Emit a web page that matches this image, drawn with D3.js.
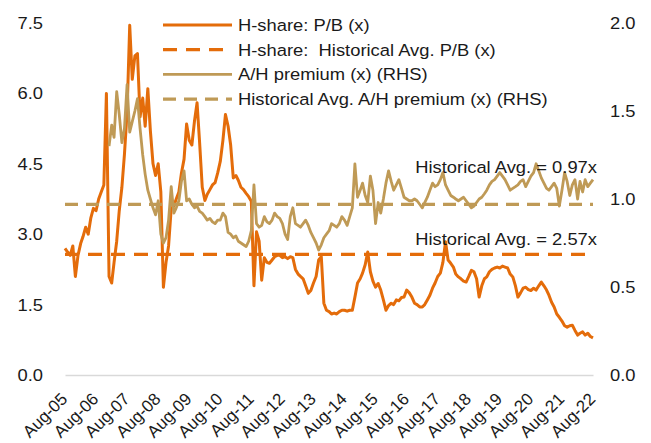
<!DOCTYPE html>
<html><head><meta charset="utf-8">
<script src="https://cdn.jsdelivr.net/npm/d3@7/dist/d3.min.js"></script>
<style>
html,body{margin:0;padding:0;background:#fff;}
svg{display:block;font-family:"Liberation Sans",Arial,sans-serif;}
</style></head>
<body><svg id="chart" width="651" height="443"></svg>
<script>
// ---- data (monthly) ----
const pbStart = [2005, 7];   // Aug-05
const pbValues = [
 2.70,2.62,2.55,2.75,2.10,2.55,2.80,2.95,3.15,3.00,3.35,3.55,
 3.50,3.75,3.90,4.05,6.00,2.10,1.96,2.40,2.85,3.50,4.00,4.70,
 5.60,7.45,6.30,6.80,6.85,5.50,5.90,5.30,6.10,5.20,4.50,4.25,
 4.50,3.90,1.87,2.40,2.75,3.55,3.60,3.75,3.90,4.30,4.60,5.35,
 5.00,4.90,5.40,5.80,4.95,4.00,3.72,3.85,3.95,4.05,4.10,4.30,
 4.55,5.00,5.55,5.30,4.90,4.20,4.25,4.15,4.00,3.95,3.87,3.80,
 3.70,1.90,3.05,2.85,2.02,2.50,2.40,2.38,2.45,2.52,2.55,2.55,
 2.50,2.52,2.48,2.52,2.50,2.25,2.15,2.10,2.05,1.90,1.74,1.80,
 1.96,2.10,2.45,2.52,1.53,1.38,1.35,1.30,1.32,1.30,1.35,1.38,
 1.38,1.36,1.38,1.38,1.66,1.96,2.05,2.17,2.35,2.62,2.20,2.00,
 1.87,1.95,1.81,1.60,1.38,1.48,1.53,1.50,1.60,1.58,1.65,1.66,
 1.81,1.75,1.66,1.53,1.50,1.45,1.45,1.50,1.60,1.70,1.85,1.96,
 2.10,2.17,2.40,2.84,2.45,2.38,2.30,2.15,2.09,2.05,2.00,1.98,
 2.10,2.23,2.20,2.05,1.66,1.90,2.05,2.09,2.20,2.25,2.28,2.30,
 2.28,2.32,2.30,2.28,2.15,2.09,1.90,1.66,1.75,1.85,1.87,1.82,
 1.80,1.85,1.81,1.90,1.98,1.90,1.81,1.70,1.55,1.45,1.30,1.23,
 1.15,1.05,1.02,1.05,1.06,0.95,0.85,0.89,0.92,0.85,0.89,0.82,0.79
];
const ahStart = [2007, 0];   // Jan-07
const ahValues = [
 1.30,1.42,1.35,1.61,1.48,1.32,1.40,1.65,1.38,1.44,1.50,1.57,1.40,1.25,1.14,1.05,1.00,0.95,0.91,
 0.99,0.80,0.75,0.78,0.88,1.07,0.92,0.95,0.99,1.10,1.16,0.99,
 1.00,0.97,0.95,0.96,0.93,0.92,0.90,0.88,0.89,0.87,0.86,0.88,
 0.88,0.92,0.90,0.81,0.80,0.78,0.79,0.76,0.75,0.74,0.73,0.76,
 0.82,1.08,0.86,0.84,0.85,0.90,0.87,0.86,0.88,0.92,0.90,0.89,
 0.86,0.80,0.77,0.90,0.95,0.86,0.85,0.84,0.86,0.88,0.85,0.81,
 0.78,0.75,0.71,0.74,0.78,0.80,0.82,0.86,0.85,0.84,0.86,0.90,
 0.88,0.85,0.90,0.95,1.20,1.01,1.05,1.09,1.02,0.98,1.13,1.05,
 0.86,0.98,0.92,1.00,1.09,1.16,1.10,1.05,1.08,1.11,1.06,1.01,
 1.00,0.99,0.99,1.00,0.99,0.97,0.95,0.98,1.01,1.05,1.09,1.07,
 1.08,1.11,1.15,1.08,1.05,1.02,1.01,1.00,0.99,1.00,1.01,0.99,
 0.97,0.95,0.96,0.98,1.00,1.01,1.03,1.05,1.08,1.10,1.11,1.13,
 1.15,1.13,1.11,1.08,1.05,1.06,1.07,1.08,1.10,1.11,1.07,1.10,
 1.13,1.15,1.20,1.16,1.12,1.09,1.06,1.05,1.07,1.09,1.06,0.96,
 1.05,1.15,1.10,1.02,1.08,1.11,1.00,1.10,1.04,1.11,1.07,1.09,1.11
];
const pbAvg = 2.57;
const ahAvg = 0.97;
const leftTicks = [0, 1.5, 3.0, 4.5, 6.0, 7.5];
const rightTicks = [0, 0.5, 1.0, 1.5, 2.0];
const xTickYears = d3.range(2005, 2023);
const legendLabels = ["H-share: P/B (x)", "H-share:  Historical Avg. P/B (x)", "A/H premium (x) (RHS)", "Historical Avg. A/H premium (x) (RHS)"];
const annotations = ["Historical Avg. = 0.97x", "Historical Avg. = 2.57x"];

// ---- styles ----
const ORANGE = "#E46C0A", TAN = "#BF9A56", TXT = "#1a1a1a";
const FS = 17, SX = 1.08;

const svg = d3.select("#chart");
const X0 = 65, X1 = 593, Y0 = 375, Y1 = 23;

const pbData = pbValues.map((v, i) => ({d: new Date(pbStart[0], pbStart[1] + i, 1), v}));
const ahData = ahValues.map((v, i) => ({d: new Date(ahStart[0], ahStart[1] + i, 1), v}));

const x = d3.scaleTime().domain([new Date(2005, 7, 1), new Date(2022, 7, 1)]).range([X0, X1]);
const yL = d3.scaleLinear().domain([0, 7.5]).range([Y0, Y1]);
const yR = d3.scaleLinear().domain([0, 2]).range([Y0, Y1]);

// axes
const axL = svg.append("g").attr("transform", `translate(${X0},0)`)
  .call(d3.axisLeft(yL).tickValues(leftTicks).tickFormat(d3.format(".1f")).tickSize(0).tickPadding(22 / SX));
const axR = svg.append("g").attr("transform", `translate(${X1},0)`)
  .call(d3.axisRight(yR).tickValues(rightTicks).tickFormat(d3.format(".1f")).tickSize(0).tickPadding(17 / SX));
[axL, axR].forEach(a => {
  a.select(".domain").remove();
  a.selectAll("text").attr("font-size", FS).attr("fill", TXT)
    .attr("font-family", "Liberation Sans, Arial, sans-serif")
    .attr("transform", `scale(${SX},1)`);
});

const axX = svg.append("g").attr("transform", `translate(0,${Y0})`)
  .call(d3.axisBottom(x).tickValues(xTickYears.map(y => new Date(y, 7, 1)))
    .tickFormat(d3.timeFormat("%b-%y")).tickSize(0));
axX.select(".domain").attr("stroke", "#d9d9d9").attr("stroke-width", 1.5);
axX.selectAll("text")
  .attr("font-size", 17).attr("fill", TXT).attr("font-family", "Liberation Sans, Arial, sans-serif")
  .attr("text-anchor", "end")
  .attr("x", 0).attr("y", 0).attr("dy", 0)
  .attr("transform", "translate(3,25) rotate(-45)");

// lines
const linePB = d3.line().x(d => x(d.d)).y(d => yL(d.v));
const lineAH = d3.line().x(d => x(d.d)).y(d => yR(d.v));

svg.append("path").datum(pbData).attr("d", linePB)
  .attr("fill", "none").attr("stroke", ORANGE).attr("stroke-width", 3).attr("stroke-linejoin", "round");
svg.append("line").attr("x1", X0).attr("x2", X1).attr("y1", yL(pbAvg)).attr("y2", yL(pbAvg))
  .attr("stroke", ORANGE).attr("stroke-width", 3.2).attr("stroke-dasharray", "14,9");
svg.append("path").datum(ahData).attr("d", lineAH)
  .attr("fill", "none").attr("stroke", TAN).attr("stroke-width", 2.8).attr("stroke-linejoin", "round");
svg.append("line").attr("x1", X0).attr("x2", X1).attr("y1", yR(ahAvg)).attr("y2", yR(ahAvg))
  .attr("stroke", TAN).attr("stroke-width", 3.2).attr("stroke-dasharray", "13,8");

function stretchedText(px, py, anchor, str) {
  return svg.append("text")
    .attr("transform", `translate(${px},${py}) scale(${SX},1)`)
    .attr("dy", "0.35em").attr("text-anchor", anchor)
    .attr("font-size", FS).attr("fill", TXT)
    .style("white-space", "pre").text(str);
}

// annotations
stretchedText(597, yR(ahAvg) - 37, "end", annotations[0]);
stretchedText(597, yL(pbAvg) - 15, "end", annotations[1]);

// legend
const legend = [
  {label: legendLabels[0], color: ORANGE, dash: null, w: 3},
  {label: legendLabels[1], color: ORANGE, dash: "14,9", w: 3.2},
  {label: legendLabels[2], color: TAN, dash: null, w: 2.8},
  {label: legendLabels[3], color: TAN, dash: "13,8", w: 3.2}
];
legend.forEach((it, i) => {
  const yy = 25 + i * 24.7;
  svg.append("line").attr("x1", 163).attr("x2", 232).attr("y1", yy).attr("y2", yy)
    .attr("stroke", it.color).attr("stroke-width", it.w).attr("stroke-dasharray", it.dash);
  stretchedText(238, yy, "start", it.label);
});
</script></body></html>
